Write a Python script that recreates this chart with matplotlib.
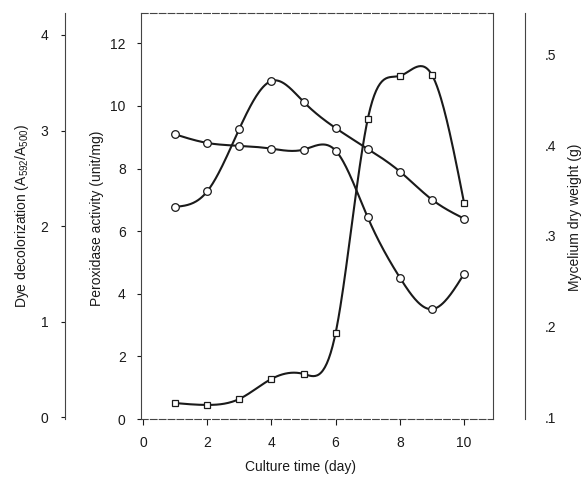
import numpy as np
import matplotlib.pyplot as plt

plt.rcParams['font.family'] = ['Liberation Sans', 'DejaVu Sans']
plt.rcParams['font.size'] = 10
plt.rcParams['mathtext.fontset'] = 'custom'
plt.rcParams['mathtext.rm'] = 'Liberation Sans'

# data
days = [1, 2, 3, 4, 5, 6, 7, 8, 9, 10]
dye_ratio = [2.96, 2.87, 2.84, 2.81, 2.80, 2.79, 2.09, 1.46, 1.13, 1.50]      # circles, left outer axis
peroxidase = [0.51, 0.45, 0.64, 1.28, 1.44, 2.75, 9.58, 10.96, 10.99, 6.9]    # squares, inner left axis
mycelium = [0.332, 0.349, 0.418, 0.471, 0.448, 0.419, 0.396, 0.371, 0.340, 0.319]  # diamonds, right axis

x_ticks = [0, 2, 4, 6, 8, 10]
dye_ticks = [0, 1, 2, 3, 4]
perox_ticks = [0, 2, 4, 6, 8, 10, 12]
myc_ticks = [0.1, 0.2, 0.3, 0.4, 0.5]
myc_labels = ['.1', '.2', '.3', '.4', '.5']


def smooth(x, y, n=300):
    # natural cubic spline, only used to draw the curved connecting lines
    x = np.asarray(x, float)
    y = np.asarray(y, float)
    k = len(x)
    h = np.diff(x)
    A = np.zeros((k, k))
    b = np.zeros(k)
    A[0, 0] = A[-1, -1] = 1
    for i in range(1, k - 1):
        A[i, i - 1] = h[i - 1]
        A[i, i] = 2 * (h[i - 1] + h[i])
        A[i, i + 1] = h[i]
        b[i] = 6 * ((y[i + 1] - y[i]) / h[i] - (y[i] - y[i - 1]) / h[i - 1])
    M = np.linalg.solve(A, b)
    xs = np.linspace(x[0], x[-1], n)
    idx = np.clip(np.searchsorted(x, xs) - 1, 0, k - 2)
    x0, x1 = x[idx], x[idx + 1]
    hh = x1 - x0
    t0, t1 = x1 - xs, xs - x0
    ys = (M[idx] * t0 ** 3 + M[idx + 1] * t1 ** 3) / (6 * hh) \
        + (y[idx] / hh - M[idx] * hh / 6) * t0 + (y[idx + 1] / hh - M[idx + 1] * hh / 6) * t1
    return xs, ys


ink = '#1a1a1a'
fig = plt.figure(figsize=(5.84, 4.78), dpi=100)
ax = fig.add_axes([0.2414, 0.1234, 0.6028, 0.8494])
ax_dye = ax.twinx()
ax_myc = ax.twinx()

# main axes: peroxidase activity
ax.set_xlim(-0.06, 10.9)
ax.set_ylim(0, 12.97)
ax.set_xticks(x_ticks)
ax.set_yticks(perox_ticks)
ax.tick_params(axis='x', direction='out', length=4, pad=8, width=0.8, colors=ink)
ax.tick_params(axis='y', direction='out', length=3, pad=8, width=0.8, colors=ink)
for s in ax.spines.values():
    s.set_linewidth(0.8)
    s.set_color('#444')
ax.spines['top'].set_linestyle((0, (6, 2)))
ax.spines['bottom'].set_linestyle((0, (6, 2)))

# outer left axis: dye decolorization
ax_dye.set_ylim(-0.02, 4.23)
ax_dye.yaxis.set_ticks_position('left')
ax_dye.spines['left'].set_position(('axes', -0.216))
ax_dye.spines['left'].set_visible(True)
ax_dye.spines['right'].set_visible(False)
ax_dye.spines['top'].set_visible(False)
ax_dye.spines['bottom'].set_visible(False)
ax_dye.spines['left'].set_linewidth(0.8)
ax_dye.spines['left'].set_color('#444')
ax_dye.set_yticks(dye_ticks)
ax_dye.tick_params(axis='y', direction='out', length=3, pad=9, width=0.8, colors=ink)

# right axis: mycelium dry weight
ax_myc.set_ylim(0.0978, 0.546)
ax_myc.spines['right'].set_position(('axes', 1.091))
for side in ['left', 'top', 'bottom']:
    ax_myc.spines[side].set_visible(False)
ax_myc.spines['right'].set_linewidth(0.8)
ax_myc.spines['right'].set_color('#444')
ax_myc.set_yticks(myc_ticks)
ax_myc.set_yticklabels(myc_labels)
ax_myc.tick_params(axis='y', direction='out', length=0, pad=14, colors=ink)

line_kw = dict(color=ink, linewidth=1.5)
mk_kw = dict(linestyle='none', markerfacecolor='white', markeredgecolor=ink,
             markeredgewidth=0.9, zorder=5)

xs, ys = smooth(days, dye_ratio)
ax_dye.plot(xs, ys, **line_kw)
ax_dye.plot(days, dye_ratio, marker='o', markersize=5.5, **mk_kw)

xs, ys = smooth(days, peroxidase)
ax.plot(xs, ys, **line_kw)
ax.plot(days, peroxidase, marker='s', markersize=5, **mk_kw)

xs, ys = smooth(days, mycelium)
ax_myc.plot(xs, ys, **line_kw)
ax_myc.plot(days, mycelium, marker='o', markersize=5.5, **mk_kw)

fig.text(300 / 584, 1 - 467 / 478, 'Culture time (day)', ha='center', va='center', color=ink)
fig.text(97 / 584, 1 - 218 / 478, 'Peroxidase activity (unit/mg)', rotation=90,
         ha='center', va='center', color=ink)
fig.text(22 / 584, 1 - 216 / 478, r'Dye decolorization (A$\mathregular{_{592}}$/A$\mathregular{_{500}}$)',
         rotation=90, ha='center', va='center', color=ink)
fig.text(575 / 584, 1 - 217 / 478, 'Mycelium dry weight (g)', rotation=90,
         ha='center', va='center', color=ink)

fig.savefig('out.png', dpi=100)
